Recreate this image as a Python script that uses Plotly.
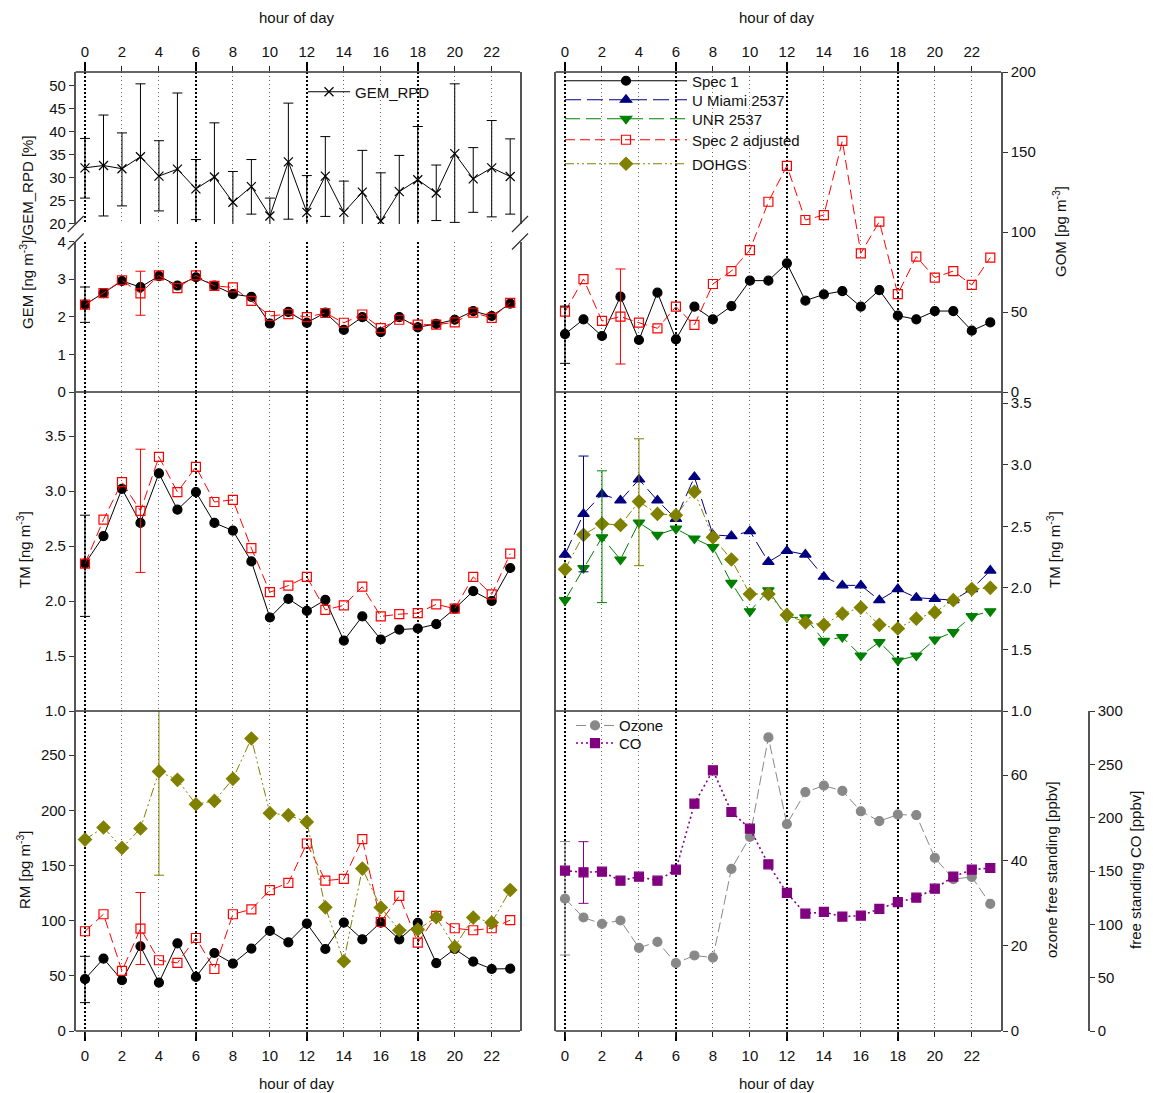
import plotly.graph_objects as go

W, H = 1153, 1093
OFF = 8  # page body margin of the html page
WF, HF = W - OFF, H - OFF
FONT = "Liberation Sans, Arial, Helvetica, sans-serif"

HOURS = list(range(24))
LABEL_HOURS = list(range(0, 24, 2))
MAJOR_HOURS = [0, 6, 12, 18]

GEM_RPD = [32.1, 32.6, 31.9, 34.5, 30.3, 31.8, 27.5, 30.1, 24.6, 28.0, 21.6, 33.4,
           22.4, 30.3, 22.4, 26.8, 20.5, 26.9, 29.5, 26.6, 35.2, 29.7, 32.1, 30.2]
GEM_RPD_HI = [38.5, 43.6, 39.7, 50.4, 38.0, 48.4, 33.9, 41.9, 31.3, 33.9, 25.5, 46.2,
              30.4, 38.9, 29.2, 35.9, 31.0, 34.8, 41.1, 32.7, 50.4, 36.5, 42.4, 38.4]
GEM_RPD_LO = [25.5, 21.6, 23.8, 18.0, 22.7, 18.0, 20.8, 18.0, 18.0, 22.0, 18.0, 20.9,
              18.0, 21.5, 18.0, 18.0, 18.0, 18.0, 18.0, 20.6, 20.2, 22.4, 21.4, 22.0]

GEM_SPEC1 = [2.32, 2.63, 2.95, 2.79, 3.08, 2.83, 3.05, 2.83, 2.60, 2.53, 1.82, 2.13,
             1.84, 2.11, 1.65, 1.99, 1.59, 1.99, 1.72, 1.81, 1.92, 2.15, 2.02, 2.35]
GEM_SPEC2 = [2.32, 2.63, 2.97, 2.62, 3.10, 2.76, 3.10, 2.82, 2.78, 2.42, 2.02, 2.07,
             1.99, 2.10, 1.84, 2.06, 1.70, 1.92, 1.79, 1.79, 1.85, 2.11, 1.97, 2.37]

GOM_SPEC1 = [36.2, 45.4, 35.0, 59.6, 32.5, 62.1, 32.9, 53.3, 45.4, 53.7, 69.6, 69.6,
             80.4, 57.1, 61.0, 63.1, 53.3, 63.7, 47.7, 45.4, 50.6, 50.6, 38.3, 43.5]
GOM_SPEC2 = [50.2, 70.6, 44.4, 47.1, 43.3, 39.8, 53.3, 41.9, 67.5, 75.6, 88.7, 118.9,
             141.3, 107.5, 110.6, 156.9, 86.7, 106.5, 61.2, 84.6, 71.5, 75.6, 66.9, 84.0]

TM_SPEC1 = [2.34, 2.59, 3.02, 2.71, 3.16, 2.83, 2.99, 2.71, 2.64, 2.36, 1.85, 2.02,
            1.91, 2.01, 1.64, 1.86, 1.65, 1.74, 1.75, 1.79, 1.93, 2.09, 2.00, 2.30]
TM_SPEC2 = [2.34, 2.74, 3.08, 2.82, 3.31, 2.99, 3.22, 2.90, 2.92, 2.48, 2.08, 2.14,
            2.22, 1.92, 1.96, 2.13, 1.86, 1.88, 1.89, 1.97, 1.93, 2.22, 2.06, 2.43]
TM_MIAMI = [2.27, 2.60, 2.76, 2.71, 2.88, 2.71, 2.56, 2.90, 2.43, 2.42, 2.46, 2.21,
            2.30, 2.27, 2.09, 2.02, 2.02, 1.90, 1.99, 1.92, 1.91, 1.90, 1.99, 2.14]
TM_UNR = [1.90, 2.16, 2.41, 2.23, 2.53, 2.43, 2.48, 2.40, 2.33, 2.04, 1.81, 1.98,
          1.76, 1.76, 1.57, 1.60, 1.45, 1.56, 1.41, 1.45, 1.58, 1.64, 1.77, 1.81]
TM_DOHGS = [2.15, 2.43, 2.52, 2.51, 2.70, 2.60, 2.59, 2.78, 2.41, 2.23, 1.95, 1.95,
            1.78, 1.72, 1.70, 1.79, 1.84, 1.70, 1.67, 1.75, 1.80, 1.90, 1.99, 2.00]

RM_SPEC1 = [47.1, 65.6, 46.0, 76.8, 43.9, 79.5, 49.0, 70.7, 61.1, 74.7, 90.7, 80.4,
            97.4, 74.3, 98.3, 83.1, 98.3, 83.1, 97.9, 61.6, 74.3, 62.9, 56.2, 56.5]
RM_SPEC2 = [90.4, 105.8, 54.4, 92.8, 64.1, 61.7, 84.3, 56.2, 105.8, 110.3, 127.6, 134.2,
            169.9, 136.3, 137.8, 173.8, 98.8, 122.4, 80.1, 104.3, 93.1, 91.3, 93.1, 100.4]
RM_DOHGS = [173.5, 184.4, 165.9, 183.5, 235.2, 227.6, 205.5, 208.5, 228.5, 265.1, 197.4, 195.6,
            189.5, 112.1, 63.2, 147.2, 111.9, 91.3, 91.9, 103.1, 76.2, 102.8, 98.3, 127.8]

OZONE = [31.0, 26.6, 25.1, 25.9, 19.5, 20.9, 15.9, 17.7, 17.2, 38.0, 45.5, 68.8,
         48.5, 56.0, 57.5, 56.3, 51.5, 49.2, 50.7, 50.6, 40.6, 35.6, 36.1, 29.8]
CO = [150.3, 148.8, 149.4, 140.9, 144.7, 140.9, 151.2, 213.1, 244.4, 205.3, 189.7, 156.3,
      129.4, 110.0, 111.6, 107.2, 108.1, 114.4, 120.9, 125.0, 133.4, 144.7, 151.2, 152.8]

# error bars: [hour, lower bound, upper bound]
GEM_SPEC1_ERR = [0, 1.85, 2.79]
GEM_SPEC2_ERR = [3, 2.04, 3.21]
GOM_SPEC1_ERR = [0, 17.9, 53.7]
GOM_SPEC2_ERR = [3, 17.5, 76.9]
TM_SPEC1_ERR = [0, 1.86, 2.78]
TM_SPEC2_ERR = [3, 2.26, 3.38]
TM_MIAMI_ERR = [1, 2.13, 3.07]
TM_UNR_ERR = [2, 1.88, 2.95]
TM_DOHGS_ERR = [4, 2.18, 3.21]
RM_SPEC1_ERR = [0, 25.7, 67.7]
RM_SPEC2_ERR = [3, 60.2, 125.5]
RM_DOHGS_ERR = [4, 141.2, 300.0]
OZONE_ERR = [0, 17.8, 44.4]
CO_ERR = [1, 119.7, 177.5]


def px(x):
    return (x - OFF) / WF


def py(y):
    return 1 - (y - OFF) / HF


STY = {
    "spec1": dict(color="#000000", dash="solid", symbol="circle", size=9),
    "spec2": dict(color="#FF0000", dash="10px,5px", symbol="square-open", size=9),
    "miami": dict(color="#000080", dash="16px,6px", symbol="triangle-up", size=10),
    "unr": dict(color="#008000", dash="15px,6px", symbol="triangle-down", size=10),
    "dohgs": dict(color="#808000", dash="9px,3px,2px,3px,2px,3px", symbol="diamond", size=10),
    "rpd": dict(color="#000000", dash="solid", symbol="x-thin-open", size=9),
    "ozone": dict(color="#888888", dash="10px,4px", symbol="circle", size=9),
    "co": dict(color="#800080", dash="2px,3px", symbol="square", size=9, width=1.6),
}

traces = []


def line_trace(ys, xa, ya, key, name, legend=None, err=None):
    s = STY[key]
    kw = {}
    if err is not None:
        kw["error_y"] = dict(type="data", symmetric=False,
                             array=[hi - v for hi, v in zip(err[1], ys)],
                             arrayminus=[v - lo for lo, v in zip(err[0], ys)],
                             color=s["color"], thickness=1, width=5)
    traces.append(go.Scatter(
        x=HOURS, y=ys, xaxis=xa, yaxis=ya, mode="lines+markers", name=name,
        line=dict(color=s["color"], width=s.get("width", 1), dash=s["dash"]),
        marker=dict(symbol=s["symbol"], size=s["size"], color=s["color"],
                    line=dict(color=s["color"], width=1.2)),
        showlegend=legend is not None, legend=legend or "legend",
        hoverinfo="skip", **kw))


def err_trace(ys, err, xa, ya, key):
    h, lo, hi = err
    v = ys[h]
    traces.append(go.Scatter(
        x=[HOURS[h]], y=[v], xaxis=xa, yaxis=ya, mode="markers",
        marker=dict(size=2, opacity=0), showlegend=False, hoverinfo="skip",
        error_y=dict(type="data", symmetric=False, array=[hi - v], arrayminus=[v - lo],
                     color=STY[key]["color"], thickness=1, width=5)))


def axis_holder(xa, ya):
    # empty carrier so that the overlaid tick-label axes get drawn
    traces.append(go.Scatter(x=[HOURS[0]], y=[None], xaxis=xa, yaxis=ya, mode="markers",
                             marker=dict(opacity=0), showlegend=False, hoverinfo="skip"))


# left column
line_trace(GEM_RPD, "x", "y", "rpd", "GEM_RPD", legend="legend", err=(GEM_RPD_LO, GEM_RPD_HI))
line_trace(GEM_SPEC1, "x", "y2", "spec1", "Spec 1")
line_trace(GEM_SPEC2, "x", "y2", "spec2", "Spec 2 adjusted")
err_trace(GEM_SPEC1, GEM_SPEC1_ERR, "x", "y2", "spec1")
err_trace(GEM_SPEC2, GEM_SPEC2_ERR, "x", "y2", "spec2")

line_trace(TM_SPEC1, "x", "y3", "spec1", "Spec 1")
line_trace(TM_SPEC2, "x", "y3", "spec2", "Spec 2 adjusted")
err_trace(TM_SPEC1, TM_SPEC1_ERR, "x", "y3", "spec1")
err_trace(TM_SPEC2, TM_SPEC2_ERR, "x", "y3", "spec2")

line_trace(RM_SPEC1, "x", "y4", "spec1", "Spec 1")
line_trace(RM_SPEC2, "x", "y4", "spec2", "Spec 2 adjusted")
line_trace(RM_DOHGS, "x", "y4", "dohgs", "DOHGS")
err_trace(RM_SPEC1, RM_SPEC1_ERR, "x", "y4", "spec1")
err_trace(RM_SPEC2, RM_SPEC2_ERR, "x", "y4", "spec2")
err_trace(RM_DOHGS, RM_DOHGS_ERR, "x", "y4", "dohgs")

# right column
line_trace(GOM_SPEC1, "x2", "y5", "spec1", "Spec 1", legend="legend2")
line_trace(GOM_SPEC2, "x2", "y5", "spec2", "Spec 2 adjusted", legend="legend5")
err_trace(GOM_SPEC1, GOM_SPEC1_ERR, "x2", "y5", "spec1")
err_trace(GOM_SPEC2, GOM_SPEC2_ERR, "x2", "y5", "spec2")

line_trace(TM_MIAMI, "x2", "y6", "miami", "U Miami 2537", legend="legend3")
line_trace(TM_UNR, "x2", "y6", "unr", "UNR 2537", legend="legend4")
line_trace(TM_DOHGS, "x2", "y6", "dohgs", "DOHGS", legend="legend6")
err_trace(TM_MIAMI, TM_MIAMI_ERR, "x2", "y6", "miami")
err_trace(TM_UNR, TM_UNR_ERR, "x2", "y6", "unr")
err_trace(TM_DOHGS, TM_DOHGS_ERR, "x2", "y6", "dohgs")

line_trace(OZONE, "x2", "y7", "ozone", "Ozone", legend="legend7")
line_trace(CO, "x2", "y8", "co", "CO", legend="legend8")
err_trace(OZONE, OZONE_ERR, "x2", "y7", "ozone")
err_trace(CO, CO_ERR, "x2", "y8", "co")

for xa, ya in (("x3", "y4"), ("x4", "y7"), ("x5", "y"), ("x6", "y5"), ("x7", "y"), ("x8", "y5")):
    axis_holder(xa, ya)

fig = go.Figure(traces)

TICKFONT = dict(family=FONT, size=15, color="#111111")
LINEC = "#555555"
LX = [px(75.7), px(520)]
RX = [px(555.7), px(1001)]
XR_L = [-0.503, 23.53]
XR_R = [-0.503, 23.58]
MINOR_HOURS = [h for h in LABEL_HOURS if h not in MAJOR_HOURS]


def base_x(domain, rng, anchor):
    return dict(domain=domain, range=rng, anchor=anchor, side="bottom", automargin=False,
                tickmode="array", tickvals=MAJOR_HOURS, ticks="outside", ticklen=9,
                tickwidth=2, tickcolor="#000000", showticklabels=False,
                showgrid=True, gridcolor="#000000", gridwidth=1.6, griddash="2px,2px",
                zeroline=False, showline=False,
                minor=dict(tickmode="array", tickvals=MINOR_HOURS, ticks="",
                           showgrid=True, gridcolor="#666666", gridwidth=1,
                           griddash="1px,3px"))


def label_x(over, rng, anchor, side, standoff):
    return dict(overlaying=over, range=rng, anchor=anchor, side=side, automargin=False,
                tickmode="array", tickvals=LABEL_HOURS, ticks="outside", ticklen=5,
                tickwidth=1, tickcolor="#222222", showticklabels=True, tickfont=TICKFONT,
                ticklabelstandoff=standoff, showgrid=False, zeroline=False, showline=False)


def thick_x(over, rng, anchor):
    return dict(overlaying=over, range=rng, anchor=anchor, side="top", automargin=False,
                tickmode="array", tickvals=MAJOR_HOURS, ticks="outside", ticklen=9,
                tickwidth=2, tickcolor="#000000", showticklabels=False,
                showgrid=False, zeroline=False, showline=False)


def yax(domain, rng, vals, anchor, side, fmt=None, **kw):
    d = dict(domain=domain, range=rng, anchor=anchor, side=side, automargin=False,
             tickmode="array", tickvals=vals, ticks="outside", ticklen=5, tickwidth=1,
             tickcolor="#333333", tickfont=TICKFONT, showgrid=False, zeroline=False,
             showline=True, mirror=True, linecolor=LINEC, linewidth=1.5)
    if fmt:
        d["tickformat"] = fmt
    d.update(kw)
    return d


TOP_UP = [py(224), py(72)]
TOP_LO = [py(392), py(241.5)]
TOP = [py(392), py(72)]
MID = [py(711), py(392)]
BOT = [py(1031), py(711)]

fig.update_layout(
    width=WF, height=HF, template="none",
    margin=dict(l=0, r=0, t=0, b=0, pad=0),
    paper_bgcolor="white", plot_bgcolor="rgba(0,0,0,0)",
    font=dict(family=FONT, size=15, color="#111111"),
    showlegend=True,
    xaxis=base_x(LX, XR_L, "y4"),
    xaxis2=base_x(RX, XR_R, "y7"),
    xaxis3=label_x("x", XR_L, "y4", "bottom", 6),
    xaxis4=label_x("x2", XR_R, "y7", "bottom", 6),
    xaxis5=label_x("x", XR_L, "y", "top", 3),
    xaxis6=label_x("x2", XR_R, "y5", "top", 3),
    xaxis7=thick_x("x", XR_L, "y"),
    xaxis8=thick_x("x2", XR_R, "y5"),
    yaxis=yax(TOP_UP, [19.85, 52.98], [20, 25, 30, 35, 40, 45, 50], "x", "left"),
    yaxis2=yax(TOP_LO, [0, 4.0], [0, 1, 2, 3, 4], "x", "left"),
    yaxis3=yax(MID, [1.0, 3.9], [1.0, 1.5, 2.0, 2.5, 3.0, 3.5], "x", "left", ".1f"),
    yaxis4=yax(BOT, [0, 290], [0, 50, 100, 150, 200, 250], "x", "left"),
    yaxis5=yax(TOP, [0, 200], [0, 50, 100, 150, 200], "x2", "right"),
    yaxis6=yax(MID, [1.0, 3.59], [1.0, 1.5, 2.0, 2.5, 3.0, 3.5], "x2", "right", ".1f"),
    yaxis7=yax(BOT, [0, 75], [0, 20, 40, 60], "x2", "right"),
    yaxis8=dict(overlaying="y7", anchor="free", position=px(1089), side="right",
                range=[0, 300], tickmode="array", tickvals=[0, 50, 100, 150, 200, 250, 300],
                ticks="outside", ticklen=5, tickcolor="#333333", tickfont=TICKFONT,
                showline=True, linecolor=LINEC, linewidth=1.5, showgrid=False,
                zeroline=False, automargin=False),
)

LEG = dict(bgcolor="rgba(0,0,0,0)", borderwidth=0, xanchor="left", yanchor="middle",
           font=dict(family=FONT, size=15, color="#111111"))
fig.update_layout(
    legend=dict(LEG, x=px(303), y=py(92), itemwidth=42),
    legend2=dict(LEG, x=px(560), y=py(81), itemwidth=122),
    legend3=dict(LEG, x=px(560), y=py(100), itemwidth=122),
    legend4=dict(LEG, x=px(560), y=py(119), itemwidth=122),
    legend5=dict(LEG, x=px(560), y=py(140), itemwidth=122),
    legend6=dict(LEG, x=px(560), y=py(164), itemwidth=122),
    legend7=dict(LEG, x=px(571), y=py(725.7), itemwidth=38),
    legend8=dict(LEG, x=px(571), y=py(743.3), itemwidth=38),
)

shapes = []
for (x0, x1) in (LX, RX):
    for yy in (72, 392, 711, 1031):
        shapes.append(dict(type="line", xref="paper", yref="paper", x0=x0, x1=x1,
                           y0=py(yy), y1=py(yy), line=dict(color="#333333", width=1.3)))
# axis-break marks on the top-left panel
for xc in (75.7, 520):
    for yc in (224, 241.5):
        shapes.append(dict(type="line", xref="paper", yref="paper",
                           x0=px(xc - 8), x1=px(xc + 8), y0=py(yc + 8), y1=py(yc - 8),
                           line=dict(color="#333333", width=1.2)))
fig.update_layout(shapes=shapes)


def ann(text, x, y, angle=0):
    return dict(text=text, x=px(x), y=py(y), xref="paper", yref="paper", showarrow=False,
                textangle=angle, xanchor="center", yanchor="middle",
                font=dict(family=FONT, size=15, color="#111111"))


fig.update_layout(annotations=[
    ann("hour of day", 297, 18), ann("hour of day", 777, 18),
    ann("hour of day", 297, 1083), ann("hour of day", 777, 1083),
    ann("GEM [ng m<sup>-3</sup>]/GEM_RPD [%]", 27, 232, -90),
    ann("TM [ng m<sup>-3</sup>]", 23, 550, -90),
    ann("RM [pg m<sup>-3</sup>]", 23, 870, -90),
    ann("GOM [pg m<sup>-3</sup>]", 1060, 232, -90),
    ann("TM [ng m<sup>-3</sup>]", 1053, 550, -90),
    ann("ozone free standing [ppbv]", 1051, 870, -90),
    ann("free standing CO [ppbv]", 1135, 870, -90),
])

fig.write_html("out.html")
